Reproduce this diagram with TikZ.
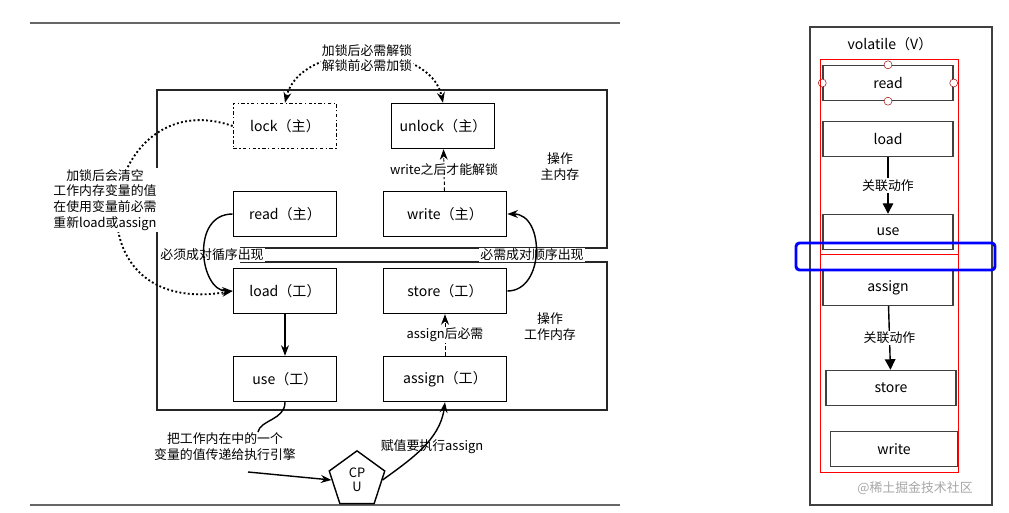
\documentclass[tikz,border=0pt]{standalone}
\usepackage{fontspec}
\setmainfont{Noto Sans CJK SC}
\usetikzlibrary{shapes.geometric,arrows.meta}
\tikzset{
  op/.style={draw, very thick, minimum width=3.1cm, minimum height=1.35cm, font=\fontsize{12}{14}\selectfont},
  vop/.style={draw, very thick, draw=black!75, minimum width=3.9cm, minimum height=1.05cm, font=\fontsize{12}{14}\selectfont},
  lbl/.style={font=\fontsize{11}{13.5}\selectfont, align=center, fill=white, inner sep=1pt},
  frame/.style={very thick, black!85},
  arr/.style={-{Stealth[length=9pt]}, very thick},
  dotarr/.style={dotted, line width=1.6pt, -{Stealth[length=9pt]}}
}
\begin{document}
\begin{tikzpicture}[x=0.03cm, y=-0.03cm]
\useasboundingbox (0,0) rectangle (1009,513);
% page rules
\draw[black!60, very thick] (30,23) -- (620,23);
\draw[black!60, very thick] (30,505) -- (620,505);
% main / working memory frames
\draw[frame] (240,248) -- (607,248) -- (607,90) -- (157,90) -- (157,410) -- (607,410) -- (607,262) -- (240,262);

\node[op, dash dot] (lock) at (285,126) {lock（主）};
\node[op] (unlock) at (443,126) {unlock（主）};
\node[op] (read) at (285,214) {read（主）};
\node[op, minimum width=3.7cm] (write) at (445,214) {write（主）};
\node[op] (load) at (285,291) {load（工）};
\node[op, minimum width=3.7cm] (store) at (445,291) {store（工）};
\node[op] (use) at (285,379) {use（工）};
\node[op, minimum width=3.7cm] (assign) at (445,379) {assign（工）};
\node[regular polygon, regular polygon sides=5, draw, very thick, minimum size=1.75cm, inner sep=0pt, align=center, font=\fontsize{11}{12}\selectfont] (cpu) at (357,480) {CP\\U};

% dotted rules first, labels cover them
\draw[dotarr, {Stealth[length=9pt]}-{Stealth[length=9pt]}] (lock.north) .. controls (300,40) and (430,40) .. (unlock.north);
\draw[dotarr] (lock.west) .. controls (100,80) and (60,320) .. (load.west);

% labels
\node[lbl] (lockrule) at (367,58) {加锁后必需解锁\\解锁前必需加锁};
\node[lbl] (clear) at (105,200) {加锁后会清空\\工作内存变量的值\\在使用变量前必需\\重新load或assign};
\node[lbl] (mainop) at (560,167) {操作\\主内存};
\node[lbl] (workop) at (550,327) {操作\\工作内存};
\node[lbl] (pairl) at (212,255) {必须成对循序出现};
\node[lbl] (pairr) at (532,255) {必需成对顺序出现};
\node[lbl] (toeng) at (225,447) {把工作内在中的一个\\变量的值传递给执行引擎};
\node[lbl] (assigncpu) at (432,447) {赋值要执行assign};
\coordinate (engin) at (248,472);

% connectors
\draw[arr] (read.west) .. controls (190,214) and (200,291) .. (load.west);
\draw[arr] (store.east) .. controls (545,291) and (545,214) .. (write.east);
\draw[arr] (load) -- (use);
\draw[arr, densely dashed, thick] (write) -- node[lbl] {write之后才能解锁} (unlock);
\draw[arr, densely dashed, thick] (assign) -- node[lbl] {assign后必需} (store);
\draw[very thick] (use.south) .. controls (285,420) and (260,420) .. (258,432);
\draw[arr] (engin) -- (cpu.west);
\draw[arr] (cpu.east) .. controls (410,460) and (440,440) .. (assign.south);

% volatile panel
\draw[black!75, very thick] (810,27) rectangle (992,505);
\node[font=\fontsize{12}{14}\selectfont] (vtitle) at (890,44) {volatile（V）};
\node[vop] (vread) at (888,83) {read};
\node[vop] (vload) at (888,139) {load};
\node[vop] (vuse) at (888,232) {use};
\node[vop] (vassign) at (888,288) {assign};
\node[vop] (vstore) at (891,388) {store};
\node[vop, minimum width=3.8cm] (vwrite) at (894,449) {write};
\foreach \a in {north,south,east,west}
  \draw[red!60!black, fill=white] (vread.\a) circle (4);
\draw[red, thick] (820,59) rectangle (958,472);
\draw[red, thick] (820,254) -- (958,254);
\draw[blue, line width=2.5pt, rounded corners=3pt] (796,243) rectangle (995,270);
\draw[very thick, -{Triangle[length=9pt,width=9pt]}] (vload) -- node[lbl] {关联动作} (vuse);
\draw[very thick, -{Triangle[length=9pt,width=9pt]}] (vassign) -- node[lbl] {关联动作} (vstore);
\node[black!35, font=\fontsize{11}{13}\selectfont] (mark) at (915,488) {@稀土掘金技术社区};
\end{tikzpicture}
\end{document}
